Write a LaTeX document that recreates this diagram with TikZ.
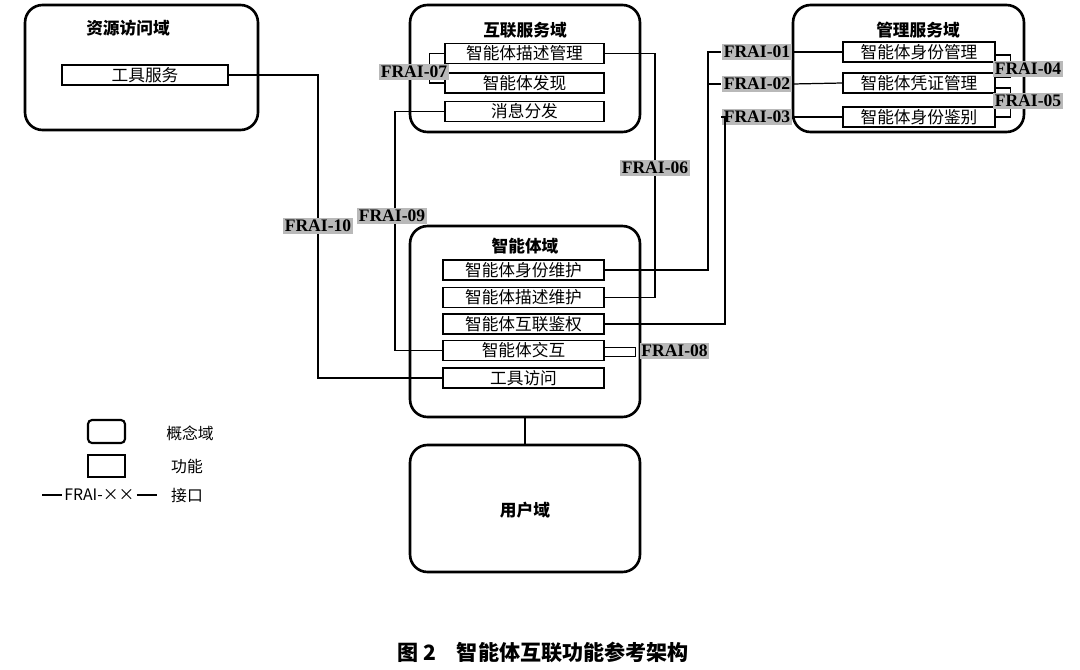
\documentclass[tikz,border=0pt]{standalone}
\usepackage{fontspec}
\setmainfont{Noto Sans CJK SC}
\newfontfamily\labelfont{Liberation Serif}
\usetikzlibrary{positioning}
\begin{document}
\begin{tikzpicture}[x=0.02cm,y=-0.02cm,line width=0.7pt,
    dombox/.style={draw,line width=1.5pt,rounded corners=0.35cm,inner sep=0pt},
    func/.style={draw,line width=0.8pt,minimum width=3.15cm,minimum height=0.4cm,inner sep=0pt,
      font=\fontsize{9.5}{11}\selectfont},
    domtitle/.style={font=\fontsize{9.5}{11}\selectfont\bfseries},
    iface/.style={fill=gray!55,inner sep=1pt,font=\labelfont\fontsize{10}{11}\selectfont\bfseries}]
  \useasboundingbox (0,0) rectangle (1080,670);

  % Domains
  \node[dombox,minimum width=4.66cm,minimum height=2.5cm] (resdom) at (141.5,67.5) {};
  \node[dombox,minimum width=4.6cm,minimum height=2.54cm] (netdom) at (525,68.5) {};
  \node[dombox,minimum width=4.62cm,minimum height=2.54cm] (mgtdom) at (908.5,68.5) {};
  \node[dombox,minimum width=4.6cm,minimum height=3.82cm] (agtdom) at (525,321.5) {};
  \node[dombox,minimum width=4.6cm,minimum height=2.54cm] (usrdom) at (525,508.5) {};

  \node[domtitle] at (128,28) {资源访问域};
  \node[domtitle] at (525,30) {互联服务域};
  \node[domtitle] at (918,30) {管理服务域};
  \node[domtitle] at (525,246) {智能体域};
  \node[domtitle] at (525,510) {用户域};

  % Functions
  \node[func,minimum width=3.32cm] (toolsvc) at (145,75) {工具服务};
  \node[func,minimum width=3.18cm] (descmgmt) at (524.5,53.5) {智能体描述管理};
  \node[func,minimum width=3.18cm] (discover) at (524.5,83) {智能体发现};
  \node[func,minimum width=3.18cm] (msgdist) at (524.5,111.5) {消息分发};
  \node[func,minimum width=3.04cm] (idmgmt) at (919,52) {智能体身份管理};
  \node[func,minimum width=3.04cm] (credmgmt) at (919,83) {智能体凭证管理};
  \node[func,minimum width=3.04cm] (idauth) at (919,117) {智能体身份鉴别};
  \foreach \n/\y/\t in {idmaint/270/智能体身份维护, descmaint/297.5/智能体描述维护,
      netauth/324/智能体互联鉴权, interact/350.5/智能体交互, toolacc/378/工具访问}
    \node[func,minimum width=3.22cm] (\n) at (523.5,\y) {\t};

  % Interfaces
  \node[iface] (l01) at (757,52) {FRAI-01};
  \node[iface] (l02) at (757,84) {FRAI-02};
  \node[iface] (l03) at (757,117) {FRAI-03};
  \node[iface] (l06) at (655,168) {FRAI-06};
  \node[iface] (l09) at (392,216) {FRAI-09};
  \node[iface] (l10) at (318,226) {FRAI-10};
  \coordinate (c01) at (708,52);
  \coordinate (c03) at (725,117);

  \draw (toolsvc.east) -| (l10.north);
  \draw (l10.south) |- (toolacc.west);
  \draw (msgdist.west) -| (l09.north -| 395,0);
  \draw (l09.south -| 395,0) |- (interact.west);
  \draw (descmgmt.east) -| (l06.north);
  \draw (l06.south) |- (descmaint.east);
  \draw (idmaint.east) -| (c01) -- (l01.west);
  \draw (l01.east) -- (idmgmt.west);
  \draw (c01 |- l02) -- (l02.west);
  \draw (l02.east) -- (credmgmt.west);
  \draw (netauth.east) -| (c03) -- (l03.west);
  \draw (l03.east) -- (idauth.west);
  \draw (agtdom.south) -- (usrdom.north);

  \draw ([yshift=-0.06cm]idmgmt.east) -- ++(15,0) |- ([yshift=0.12cm]credmgmt.east);
  \draw ([yshift=-0.1cm]credmgmt.east) -- ++(15,0) |- (idauth.east);
  \draw (descmgmt.west) -- ++(-15,0) |- (discover.west);
  \draw ([yshift=0.06cm]interact.east) -- ++(31,0) |- ([yshift=-0.12cm]interact.east);
  \node[iface] at (1028,69) {FRAI-04};
  \node[iface] at (1028,101) {FRAI-05};
  \node[iface] at (414,72) {FRAI-07};
  \node[iface,anchor=west] at (639,351) {FRAI-08};

  % Legend
  \node[dombox,rounded corners=0.08cm,line width=1.2pt,minimum width=0.74cm,minimum height=0.46cm] (lgdom) at (106.5,431.5) {};
  \node[draw,line width=0.6pt,minimum width=0.74cm,minimum height=0.44cm] (lgfun) at (106.5,466) {};
  \node[font=\fontsize{9}{10}\selectfont,anchor=west,inner sep=1pt] (lgifc) at (62,495) {FRAI-××};
  \draw (42,495) -- (lgifc.west);
  \draw (lgifc.east) -- ++(20,0);
  \node[font=\fontsize{9}{10}\selectfont] at (190,433) {概念域};
  \node[font=\fontsize{9}{10}\selectfont] at (187,466) {功能};
  \node[font=\fontsize{9}{10}\selectfont] at (187,496) {接口};

  % Caption
  \node[font=\fontsize{12}{14}\selectfont\bfseries] at (543,652) {图 2\quad 智能体互联功能参考架构};
\end{tikzpicture}
\end{document}
